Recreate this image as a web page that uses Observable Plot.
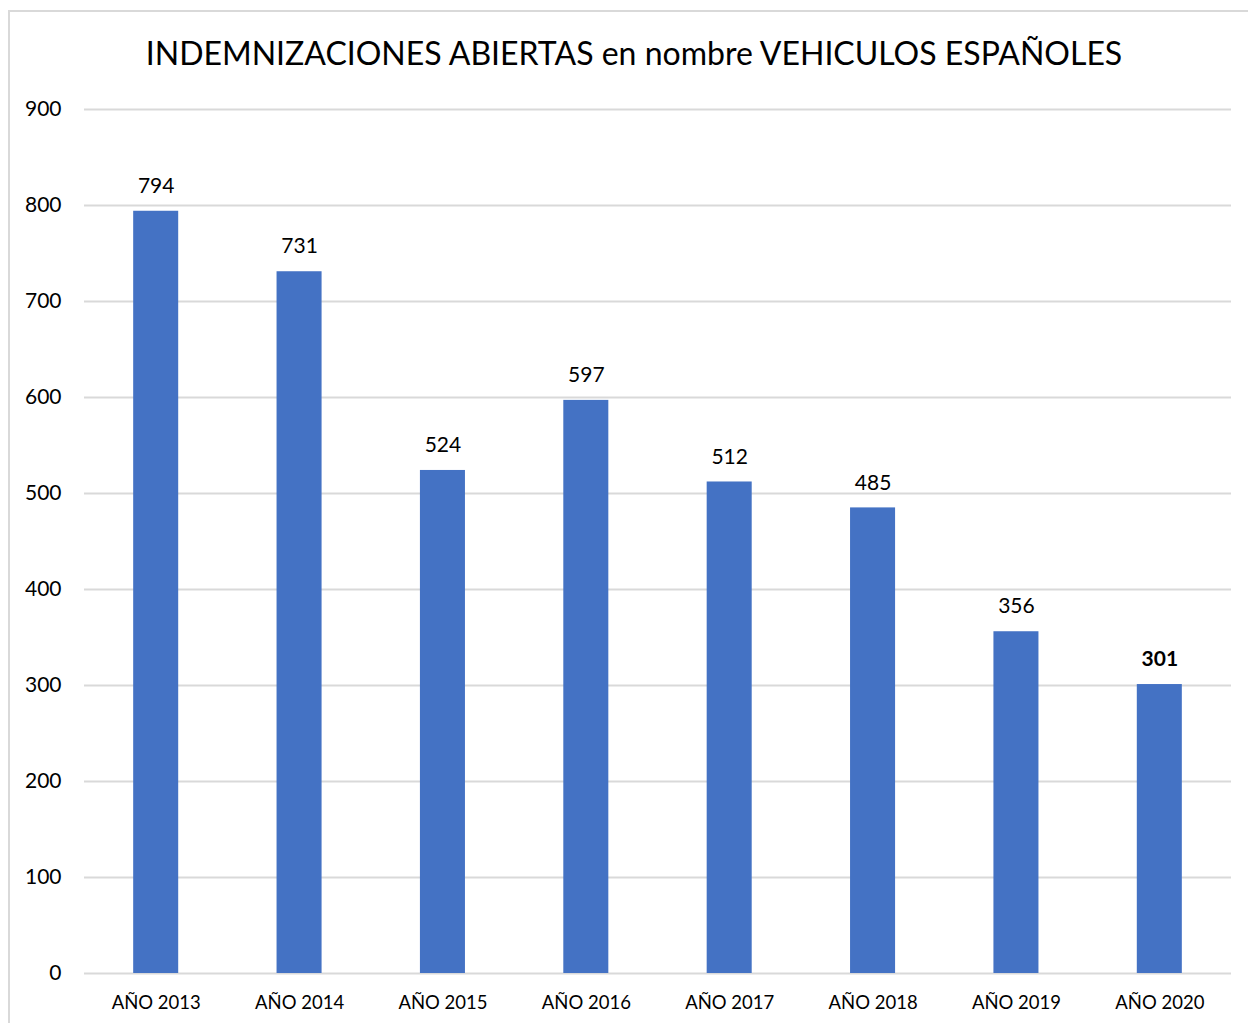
<!DOCTYPE html>
<html>
<head>
<meta charset="utf-8">
<script src="https://cdn.jsdelivr.net/npm/d3@7"></script>
<script src="https://cdn.jsdelivr.net/npm/@observablehq/plot@0.6"></script>
<style>
  html, body { margin: 0; padding: 0; background: #fff; }
  #wrap { position: relative; width: 1248px; height: 1023px; overflow: hidden; font-family: Lato, "Open Sans", sans-serif; }
  #frame { position: absolute; left: 8px; top: 10px; width: 1300px; height: 1100px; border-left: 2px solid #d9d9d9; border-top: 2px solid #d9d9d9; box-sizing: border-box; }
  #title { position: relative; height: 90px; box-sizing: border-box; padding-top: 35px; padding-left: 20px; text-align: center; font-size: 32px; line-height: 36px; color: #000; }
  #chart { position: relative; }
</style>
</head>
<body>
<div id="wrap">
  <div id="frame"></div>
  <div id="title">INDEMNIZACIONES ABIERTAS en nombre VEHICULOS ESPAÑOLES</div>
  <div id="chart"></div>
</div>
<script>
const categories = ["AÑO 2013", "AÑO 2014", "AÑO 2015", "AÑO 2016", "AÑO 2017", "AÑO 2018", "AÑO 2019", "AÑO 2020"];
const values = [794, 731, 524, 597, 512, 485, 356, 301];
const boldLabel = [false, false, false, false, false, false, false, true];
const yTicks = [0, 100, 200, 300, 400, 500, 600, 700, 800, 900];

const data = categories.map((c, i) => ({ year: c, value: values[i], bold: boldLabel[i] }));

const chart = Plot.plot({
  width: 1248,
  height: 933,
  marginTop: 19,
  marginBottom: 50,
  marginLeft: 84,
  marginRight: 17,
  style: { fontFamily: "Lato, 'Open Sans', sans-serif", background: "transparent", overflow: "visible" },
  x: { domain: categories, paddingInner: 0.686, paddingOuter: 0.343, round: false, label: null },
  y: { domain: [0, 900], label: null },
  marks: [
    Plot.gridY(yTicks, { stroke: "#d9d9d9", strokeOpacity: 1, strokeWidth: 2 }),
    Plot.axisY(yTicks, { tickSize: 0, tickPadding: 23, fontSize: 21, fill: "#000", tickFormat: d => String(d) }),
    Plot.axisX({ tickSize: 0, tickPadding: 22, fontSize: 18.5, fill: "#000" }),
    Plot.barY(data, { x: "year", y: "value", fill: "#4472C4" }),
    Plot.text(data.filter(d => !d.bold), { x: "year", y: "value", text: d => String(d.value), dy: -25, fontSize: 21, fill: "#000" }),
    Plot.text(data.filter(d => d.bold), { x: "year", y: "value", text: d => String(d.value), dy: -25, fontSize: 21, fontWeight: "bold", fill: "#000" })
  ]
});
document.getElementById("chart").appendChild(chart);
</script>
</body>
</html>
